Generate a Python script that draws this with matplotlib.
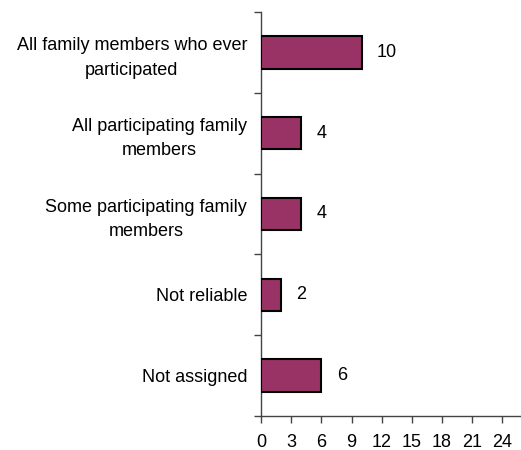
import matplotlib
matplotlib.use("Agg")
import matplotlib.pyplot as plt
import numpy as np

categories = ["All family members who ever\nparticipated",
              "All participating family\nmembers",
              "Some participating family\nmembers",
              "Not reliable",
              "Not assigned"]
values = [10, 4, 4, 2, 6]
xticks = [0, 3, 6, 9, 12, 15, 18, 21, 24]

plt.rcParams['font.family'] = ['Liberation Sans', 'DejaVu Sans']

fig = plt.figure(figsize=(5.21, 4.50), dpi=100)
ax = fig.add_axes([261/521, 1 - 416/450, (520-261)/521, (416-12)/450])

n = len(categories)
ypos = np.arange(n)[::-1]  # top first
ax.barh(ypos, values, height=0.4, color='#993366', edgecolor='black', linewidth=1.5, zorder=3)
for y, v in zip(ypos, values):
    ax.annotate(str(v), (v, y), xytext=(11, 0), textcoords='offset points',
                ha='left', va='center', fontsize=13)

ax.set_ylim(-0.5, n - 0.5)
ax.set_xlim(0, 25.75)
ax.set_yticks(ypos)
ax.set_yticklabels(categories, fontsize=13, ha='right', multialignment='center',
                   linespacing=1.55)
ax.set_yticks(np.arange(-0.5, n, 1.0), minor=True)
ax.tick_params(axis='y', which='major', length=0, pad=10)
ax.tick_params(axis='y', which='minor', length=5, direction='out', width=1, color='#444444')
ax.set_xticks(xticks)
ax.set_xticklabels([str(t) for t in xticks], fontsize=13)
ax.tick_params(axis='x', length=5, direction='out', width=1, color='#444444', pad=8)

for s in ['top', 'right']:
    ax.spines[s].set_visible(False)
for s in ['left', 'bottom']:
    ax.spines[s].set_color('#444444')
    ax.spines[s].set_linewidth(1)

fig.savefig('out.png', dpi=100)
